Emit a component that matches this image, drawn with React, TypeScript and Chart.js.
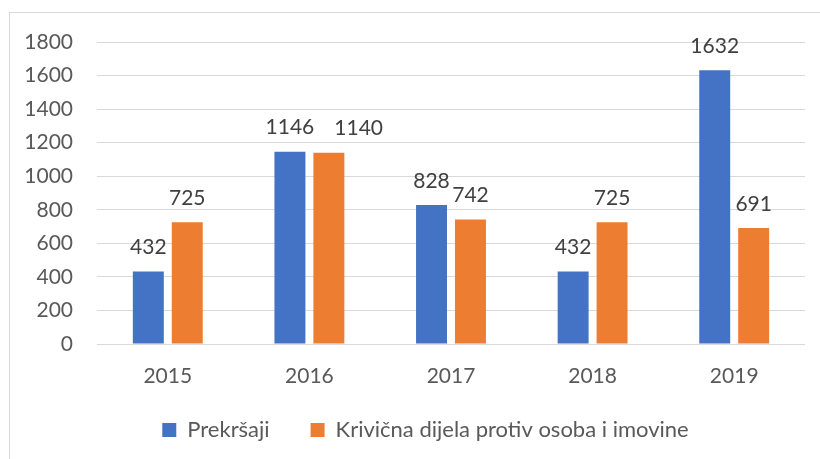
import React, { useEffect, useRef } from "react";
import { Chart, registerables } from "chart.js";

Chart.register(...registerables);

const categories = ["2015", "2016", "2017", "2018", "2019"];
const prekrsaji = [432, 1146, 828, 432, 1632];
const krivicna = [725, 1140, 742, 725, 691];
const seriesNames = ["Prekršaji", "Krivična dijela protiv osoba i imovine"];
const yTicksMax = 1800;
const yTickStep = 200;

const FONT = "Lato, 'Liberation Sans', sans-serif";

const borderPlugin = {
  id: "outerBorder",
  beforeDraw(chart: any) {
    const ctx = chart.ctx;
    ctx.save();
    ctx.fillStyle = "#ffffff";
    ctx.fillRect(0, 0, chart.width, chart.height);
    ctx.strokeStyle = "#d9d9d9";
    ctx.lineWidth = 1;
    ctx.strokeRect(9.5, 12.5, 840, 470);
    ctx.restore();
  },
};

const legendShiftPlugin = {
  id: "legendShift",
  afterLayout(chart: any) {
    const lg = chart.legend;
    if (!lg) return;
    const dx = 23;
    const dy = -8;
    lg.left += dx;
    lg.right += dx;
    lg.top += dy;
    lg.bottom += dy;
  },
};

const labelPlugin = {
  id: "valueLabels",
  afterDatasetsDraw(chart: any) {
    const ctx = chart.ctx;
    ctx.save();
    ctx.font = `21px ${FONT}`;
    ctx.fillStyle = "#404040";
    ctx.textAlign = "center";
    ctx.textBaseline = "middle";
    const n = chart.data.labels.length;
    for (let i = 0; i < n; i++) {
      let prev: { right: number; y: number } | null = null;
      chart.data.datasets.forEach((ds: any, di: number) => {
        const el = chart.getDatasetMeta(di).data[i];
        const txt = String(ds.data[i]);
        const w = ctx.measureText(txt).width;
        let cx = el.x;
        const cy = el.y - 24;
        if (prev && Math.abs(prev.y - cy) < 22 && cx - w / 2 < prev.right + 2) {
          cx = prev.right + 20 + w / 2;
        }
        ctx.fillText(txt, cx, cy);
        prev = { right: cx + w / 2, y: cy };
      });
    }
    ctx.restore();
  },
};

export default function App() {
  const ref = useRef<HTMLCanvasElement | null>(null);
  useEffect(() => {
    if (!ref.current) return;
    const chart = new Chart(ref.current, {
      type: "bar",
      data: {
        labels: categories,
        datasets: [
          {
            label: seriesNames[0],
            data: prekrsaji,
            backgroundColor: "#4472C4",
            categoryPercentage: 0.55,
            barPercentage: 0.795,
          },
          {
            label: seriesNames[1],
            data: krivicna,
            backgroundColor: "#ED7D31",
            categoryPercentage: 0.55,
            barPercentage: 0.795,
          },
        ],
      },
      options: {
        responsive: false,
        animation: false,
        layout: { padding: { left: 0, right: 15, top: 42, bottom: 0 } },
        plugins: {
          tooltip: { enabled: false },
          legend: {
            position: "bottom",
            labels: {
              boxWidth: 14,
              boxHeight: 14,
              padding: 41,
              color: "#595959",
              font: { family: FONT, size: 22 },
            },
          },
        },
        scales: {
          x: {
            grid: { display: false, drawTicks: false },
            border: { display: false },
            ticks: { color: "#595959", font: { family: FONT, size: 21 }, padding: 20 },
            afterFit(scale: any) {
              scale.height = 42;
            },
          },
          y: {
            min: 0,
            max: yTicksMax,
            grid: { color: "#d9d9d9", lineWidth: 1, drawTicks: false },
            border: { display: false },
            ticks: {
              stepSize: yTickStep,
              color: "#595959",
              font: { family: FONT, size: 21 },
              padding: 24,
              callback: (v: any) => String(v),
            },
            afterFit(scale: any) {
              scale.width = 97;
            },
          },
        },
      },
      plugins: [borderPlugin, legendShiftPlugin, labelPlugin],
    });
    return () => chart.destroy();
  }, []);
  return (
    <div style={{ position: "absolute", left: 0, top: 0, width: 820, height: 459 }}>
      <canvas ref={ref} width={820} height={459} style={{ width: 820, height: 459 }} />
    </div>
  );
}
